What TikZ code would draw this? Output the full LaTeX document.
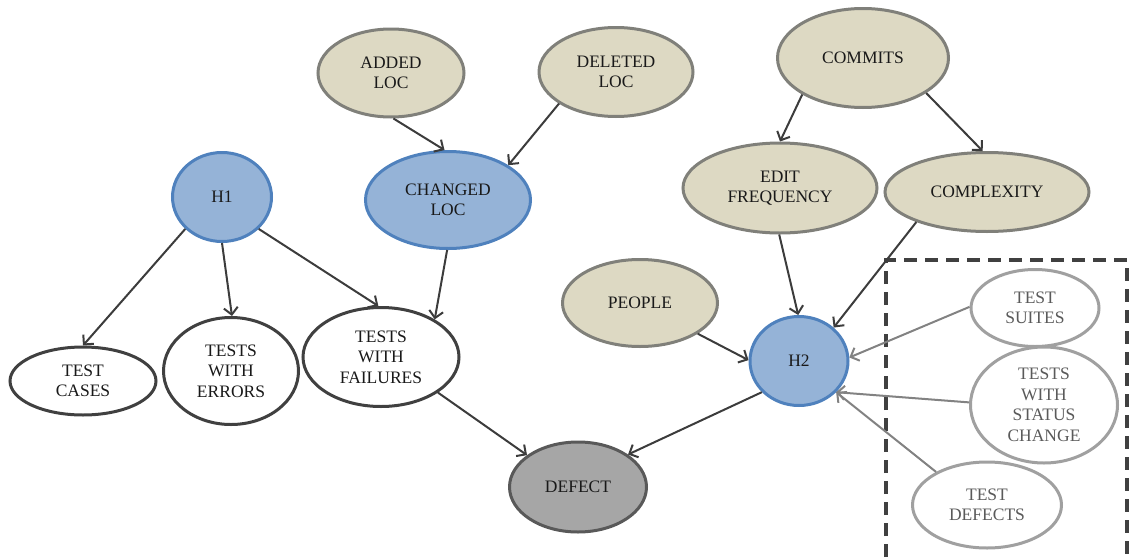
\documentclass[tikz,border=0pt]{standalone}
\usepackage{fontspec}
\setmainfont{Liberation Serif}
\usetikzlibrary{shapes.geometric,arrows.meta}
\definecolor{tanfill}{RGB}{221,217,195}
\definecolor{tanline}{RGB}{128,128,122}
\definecolor{bluefill}{RGB}{149,179,215}
\definecolor{blueline}{RGB}{79,129,189}
\definecolor{defectfill}{RGB}{166,166,166}
\definecolor{defectline}{RGB}{89,89,89}
\definecolor{darkline}{RGB}{64,64,64}
\definecolor{paleline}{RGB}{160,160,160}
\definecolor{paletext}{RGB}{90,90,90}
\definecolor{edgecol}{RGB}{60,60,60}
\definecolor{paleedge}{RGB}{130,130,130}
\begin{document}
\begin{tikzpicture}[x=1pt,y=1pt,
  every node/.style={font=\fontsize{17.5}{20.5}\selectfont, text=black!90, align=center},
  bubble/.style={ellipse, inner sep=0pt, line width=3pt},
  tan/.style={bubble, fill=tanfill, draw=tanline},
  blue/.style={bubble, fill=bluefill, draw=blueline},
  plain/.style={bubble, fill=white, draw=darkline},
  pale/.style={bubble, fill=white, draw=paleline, text=paletext},
  grey/.style={bubble, fill=defectfill, draw=defectline},
  link/.style={draw=edgecol, line width=2pt, -{Straight Barb[length=7pt,width=14pt,line width=2pt]}},
  palelink/.style={link, draw=paleedge},
  box/.style={draw=darkline, line width=3.4pt, dash pattern=on 13pt off 8pt}
]
\useasboundingbox (0,0) rectangle (1130,-557);

% dashed frame around the test-suite measures
\draw[box] (886,-557) -- (886,-260) -- (1127,-260) -- (1127,-557);

% code-change metrics
\node[tan, minimum width=146, minimum height=88] (added)   at (391,-73)  {ADDED\\LOC};
\node[tan, minimum width=154, minimum height=89] (deleted) at (616,-72)  {DELETED\\LOC};
\node[blue, minimum width=165, minimum height=97] (changed) at (448,-200) {CHANGED\\LOC};

\node[tan, minimum width=171, minimum height=99] (commits) at (863,-58)  {COMMITS};
\node[tan, minimum width=194, minimum height=90] (edit)    at (780,-188) {EDIT\\FREQUENCY};
\node[tan, minimum width=204, minimum height=79] (complex) at (987,-192) {COMPLEXITY};
\node[tan, minimum width=155, minimum height=87] (people)  at (640,-303) {PEOPLE};

% hypotheses
\node[blue, minimum width=99, minimum height=89] (h1) at (222,-197) {H1};
\node[blue, minimum width=98, minimum height=89] (h2) at (799,-361) {H2};

% test measures
\node[plain, minimum width=146, minimum height=68]  (cases)    at (83,-381)  {TEST\\CASES};
\node[plain, minimum width=135, minimum height=107] (errors)   at (231,-371) {TESTS\\WITH\\ERRORS};
\node[plain, minimum width=156, minimum height=99]  (failures) at (381,-357) {TESTS\\WITH\\FAILURES};

\node[pale, minimum width=128, minimum height=77]  (suites) at (1035,-308) {TEST\\SUITES};
\node[pale, minimum width=147, minimum height=116] (status) at (1044,-405) {TESTS\\WITH\\STATUS\\CHANGE};
\node[pale, minimum width=149, minimum height=86]  (tdef)   at (987,-505)  {TEST\\DEFECTS};

% outcome
\node[grey, minimum width=137, minimum height=90] (defect) at (578,-487) {DEFECT};

% connectors
\draw[link] (added.-87)   -- (changed.94);
\draw[link] (deleted.209) -- (changed.30);
\draw[link] (commits.211) -- (edit.90);
\draw[link] (commits.-29) -- (complex.96);
\draw[link] (h1.-139)     -- (cases.90);
\draw[link] (h1.-90)      -- (errors.89);
\draw[link] (h1.-41)      -- (failures.93);
\draw[link] (changed.-91) -- (failures.35);
\draw[link] (failures.-32) -- (defect.148);
\draw[link] (h2.220)      -- (defect.33);
\draw[link] (edit.-91)    -- (h2.91);
\draw[link] (complex.203) -- (h2.44);
\draw[link] (people.-28)  -- (h2.179);
\draw[palelink] (suites.179) -- (h2.4);
\draw[palelink] (status.178) -- (h2.-40);
\draw[palelink] (tdef.147)   -- (h2.-40);
\end{tikzpicture}
\end{document}
